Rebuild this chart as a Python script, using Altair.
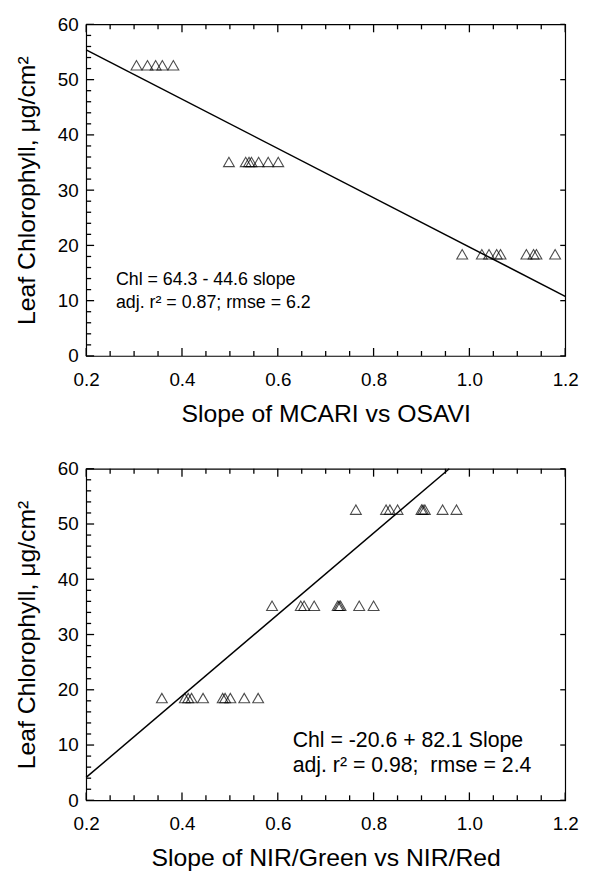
import altair as alt
import pandas as pd

# ---------------- data ----------------
# top panel (MCARI vs OSAVI)
top_chl_levels = [52.6, 35.1, 18.4]
top_x_high = [0.305, 0.328, 0.345, 0.359, 0.382]
top_x_mid = [0.498, 0.533, 0.540, 0.545, 0.560, 0.580, 0.601]
top_x_low = [0.985, 1.026, 1.041, 1.057, 1.065, 1.119, 1.134, 1.140, 1.179]
top_fit = {"intercept": 64.3, "slope": -44.6, "x0": 0.2, "x1": 1.2}
top_text = ["Chl = 64.3 - 44.6 slope", "adj. r² = 0.87; rmse = 6.2"]

# bottom panel (NIR/Green vs NIR/Red)
bot_chl_levels = [52.6, 35.2, 18.5]
bot_x_high = [0.763, 0.826, 0.834, 0.850, 0.900, 0.903, 0.907, 0.944, 0.973]
bot_x_mid = [0.588, 0.648, 0.655, 0.676, 0.725, 0.728, 0.731, 0.770, 0.800]
bot_x_low = [0.358, 0.406, 0.413, 0.420, 0.444, 0.485, 0.490, 0.501, 0.530, 0.559]
bot_fit = {"intercept": -10.6, "slope": 73.7, "x0": 0.2, "x1": 0.958}
bot_text = ["Chl = -20.6 + 82.1 Slope", "adj. r² = 0.98;\u00a0 rmse = 2.4"]

x_major = [0.2, 0.4, 0.6, 0.8, 1.0, 1.2]
x_minor = [0.25, 0.3, 0.35, 0.45, 0.5, 0.55, 0.65, 0.7, 0.75,
           0.85, 0.9, 0.95, 1.05, 1.1, 1.15]
y_major = [0, 10, 20, 30, 40, 50, 60]
y_minor = [v for v in range(0, 61, 2) if v % 10 != 0]

W, H = 484, 335
FONT = "Liberation Sans"
X0, X1, Y0, Y1 = 0.2, 1.2, 0, 60
MAJ_PX, MIN_PX = 8, 5


def points_df(levels, xs_high, xs_mid, xs_low):
    rows = []
    for lvl, xs in zip(levels, [xs_high, xs_mid, xs_low]):
        rows += [{"x": v, "y": lvl} for v in xs]
    return pd.DataFrame(rows)


def fit_df(fit):
    return pd.DataFrame({
        "x": [fit["x0"], fit["x1"]],
        "y": [fit["intercept"] + fit["slope"] * fit["x0"],
              fit["intercept"] + fit["slope"] * fit["x1"]],
    })


def tick_df(panel_name):
    """Tick segments (in data units) for a box with inward ticks on all four sides."""
    ylen = lambda px: px / H * (Y1 - Y0)
    xlen = lambda px: px / W * (X1 - X0)
    xt, yt = [], []
    for vals, px in [(x_major, MAJ_PX), (x_minor, MIN_PX)]:
        for v in vals:
            xt.append({"panel": panel_name, "x": v, "a": Y0, "b": Y0 + ylen(px)})
            xt.append({"panel": panel_name, "x": v, "a": Y1, "b": Y1 - ylen(px)})
    for vals, px in [(y_major, MAJ_PX), (y_minor, MIN_PX)]:
        for v in vals:
            yt.append({"panel": panel_name, "y": v, "a": X0, "b": X0 + xlen(px)})
    for v in y_major:
        yt.append({"panel": panel_name, "y": v, "a": X1, "b": X1 - xlen(MIN_PX)})
    return pd.DataFrame(xt), pd.DataFrame(yt)


xscale = alt.Scale(domain=[X0, X1], nice=False, zero=False)
yscale = alt.Scale(domain=[Y0, Y1], nice=False, zero=False)


def panel(name, pts, fit, xtitle, texts, tx, ty, tsize, dy):
    pts_layer = alt.Chart(pts).mark_point(
        shape="triangle-up", filled=False, color="black", size=120, strokeWidth=1.1
    ).encode(
        x=alt.X("x:Q", scale=xscale, axis=alt.Axis(
            values=x_major, format=".1f", ticks=False, domain=False, labelFlush=False,
            grid=False, labelFontSize=19, labelPadding=15, labelFont=FONT, labelColor="black",
            title=xtitle, titleFontSize=25, titleFont=FONT, titleFontWeight="normal",
            titleColor="black", titlePadding=12)),
        y=alt.Y("y:Q", scale=yscale, axis=alt.Axis(
            values=y_major, ticks=False, domain=False, grid=False, labelFlush=False,
            labelFontSize=19, labelPadding=8, labelFont=FONT, labelColor="black",
            title="Leaf Chlorophyll, μg/cm²", titleFontSize=25, titleFont=FONT,
            titleFontWeight="normal", titleColor="black", titlePadding=18)),
    )
    line_layer = alt.Chart(fit_df(fit)).mark_line(color="black", strokeWidth=1.5).encode(
        x=alt.X("x:Q", scale=xscale), y=alt.Y("y:Q", scale=yscale))
    xt, yt = tick_df(name)
    xtick_layer = alt.Chart(xt).mark_rule(color="black", strokeWidth=1.3).encode(
        x=alt.X("x:Q", scale=xscale),
        y=alt.Y("a:Q", scale=yscale), y2="b:Q")
    ytick_layer = alt.Chart(yt).mark_rule(color="black", strokeWidth=1.3).encode(
        y=alt.Y("y:Q", scale=yscale),
        x=alt.X("a:Q", scale=xscale), x2="b:Q")
    text_layers = []
    for i, t in enumerate(texts):
        text_layers.append(
            alt.Chart(pd.DataFrame({"t": [t]})).mark_text(
                align="left", baseline="alphabetic", fontSize=tsize,
                font=FONT, color="black").encode(
                x=alt.XDatum(tx, type="quantitative", scale=xscale),
                y=alt.YDatum(ty - i * dy, type="quantitative", scale=yscale),
                text="t:N")
        )
    return alt.layer(pts_layer, line_layer, xtick_layer, ytick_layer, *text_layers).properties(
        width=W, height=H)


top = panel("top", points_df(top_chl_levels, top_x_high, top_x_mid, top_x_low), top_fit,
            "Slope of MCARI vs OSAVI", top_text, 0.262, 12.9, 18, 4.2)
bottom = panel("bottom", points_df(bot_chl_levels, bot_x_high, bot_x_mid, bot_x_low), bot_fit,
               "Slope of NIR/Green vs NIR/Red", bot_text, 0.631, 9.6, 21.5, 4.5)

chart = alt.vconcat(top, bottom, spacing=32).properties(
    padding={"left": 6, "top": 2, "right": 5, "bottom": 5}
).configure_view(stroke="black", strokeWidth=1.2)

chart.save("out.html", embed_options={"renderer": "svg", "actions": False})
